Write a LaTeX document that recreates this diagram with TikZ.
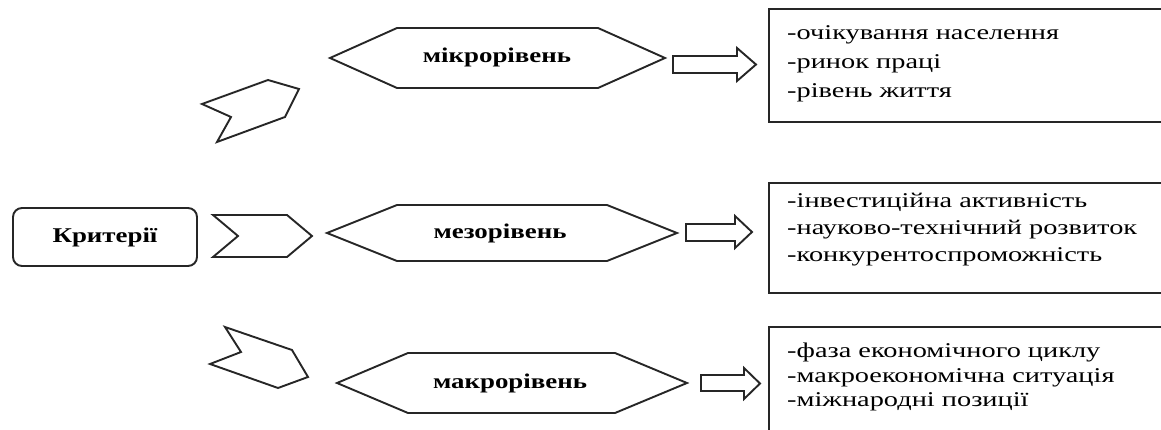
\documentclass[tikz,border=0pt]{standalone}
\usepackage{fontspec}
\setmainfont{Liberation Serif}
\newfontfamily\listserif[FakeStretch=1.35]{Liberation Serif}
\newfontfamily\labelserif[FakeStretch=1.28]{Liberation Serif}
\begin{document}
\begin{tikzpicture}[x=1pt,y=-1pt,line join=miter,
  outline/.style={draw=black!85,line width=1.9pt,fill=white},
  levellabel/.style={font=\labelserif\bfseries\fontsize{21}{24}\selectfont,inner sep=0pt},
  listtext/.style={font=\listserif\fontsize{21}{#1}\selectfont,align=left,anchor=west,inner sep=0pt},
  listtext/.default=28]
\useasboundingbox (0,0) rectangle (1161,430);
\clip (0,0) rectangle (1161,430);

% root box
\draw[outline,rounded corners=9pt] (13,208) rectangle (197,266);
\node[levellabel] (krit) at (105,237) {Критерії};

% chevrons pointing to the three levels
\draw[outline] (202,104) -- (268,80) -- (299,89) -- (285,117) -- (217,142) -- (231,117) -- cycle;
\draw[outline] (213,215) -- (287,215) -- (312,236) -- (287,257) -- (213,257) -- (238,236) -- cycle;
\draw[outline] (225,327) -- (292,350) -- (308,377) -- (278,388) -- (210,364) -- (241,352) -- cycle;

% level hexagons
\draw[outline] (330,58) -- (397,28) -- (598,28) -- (665,58) -- (598,88) -- (397,88) -- cycle;
\node[levellabel] (micro) at (497,57) {мікрорівень};
\draw[outline] (327,233) -- (397,205) -- (607,205) -- (677,233) -- (607,261) -- (397,261) -- cycle;
\node[levellabel] (meso) at (500,233) {мезорівень};
\draw[outline] (337,383) -- (408,353) -- (615,353) -- (687,383) -- (615,413) -- (408,413) -- cycle;
\node[levellabel] (macro) at (510,383) {макрорівень};

% block arrows
\draw[outline] (673,56) -- (737,56) -- (737,48) -- (756,64.5) -- (737,81) -- (737,73) -- (673,73) -- cycle;
\draw[outline] (686,224) -- (735,224) -- (735,216) -- (752,232) -- (735,248) -- (735,241) -- (686,241) -- cycle;
\draw[outline] (701,375) -- (744,375) -- (744,368) -- (760,383.5) -- (744,399) -- (744,391) -- (701,391) -- cycle;

% criteria lists
\draw[outline] (769,9) rectangle (1180,122);
\node[listtext=29] (list1) at (787,64) {-очікування населення\\-ринок праці\\-рівень життя};
\draw[outline] (769,183) rectangle (1180,293);
\node[listtext=27] (list2) at (787,230) {-інвестиційна активність\\-науково-технічний розвиток\\-конкурентоспроможність};
\draw[outline] (769,327) rectangle (1180,445);
\node[listtext=24.5] (list3) at (787,377) {-фаза економічного циклу\\-макроекономічна ситуація\\-міжнародні позиції};
\end{tikzpicture}
\end{document}
